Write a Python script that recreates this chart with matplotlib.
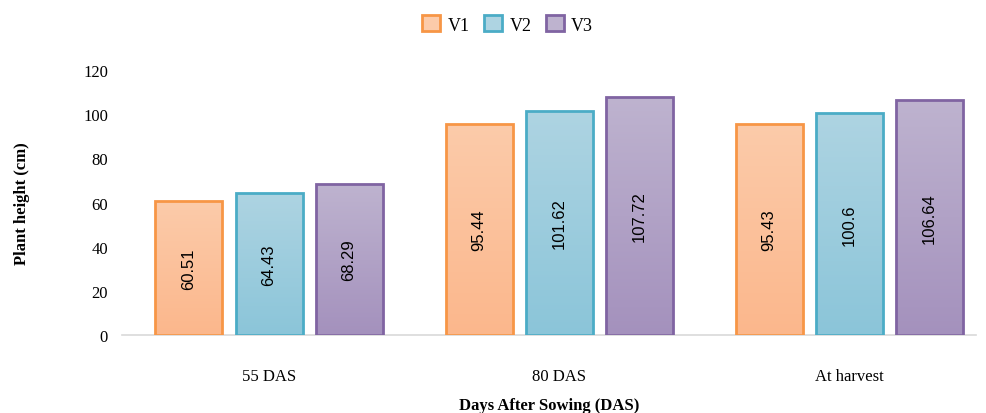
import numpy as np
import matplotlib.pyplot as plt
from matplotlib.colors import LinearSegmentedColormap
from matplotlib.patches import Patch

stages = ['55 DAS', '80 DAS', 'At harvest']
v1 = [60.51, 95.44, 95.43]
v2 = [64.43, 101.62, 100.6]
v3 = [68.29, 107.72, 106.64]
series = ['V1', 'V2', 'V3']

# edge colour, top fill, bottom fill
styles = [('#F79646', '#FCCBAA', '#FBB78C'),
          ('#4BACC6', '#AED4E2', '#8BC5D9'),
          ('#8064A2', '#BEB3CF', '#A491BD')]

plt.rcParams['font.family'] = ['Liberation Serif', 'DejaVu Serif']

fig = plt.figure(figsize=(9.86, 4.14), dpi=100)
ax = fig.add_axes([0.1237, 0.1884, 0.8663, 0.6401])

x = np.arange(len(stages))
width = 0.231
step = 0.276
grad = np.linspace(0, 1, 256).reshape(-1, 1)

for i, (vals, name) in enumerate(zip([v1, v2, v3], series)):
    edge, top, bottom = styles[i]
    cmap = LinearSegmentedColormap.from_list(name, [bottom, top])
    bars = ax.bar(x + (i - 1) * step, vals, width, facecolor='none',
                  edgecolor=edge, linewidth=2, label=name, zorder=3)
    for b, v in zip(bars, vals):
        x0 = b.get_x()
        im = ax.imshow(grad, cmap=cmap, aspect='auto', origin='lower',
                       extent=[x0, x0 + width, 0, v], zorder=2)
        im.set_clip_path(b)
        ax.text(x0 + width / 2, v / 2, f'{v:g}', rotation=90,
                ha='center', va='center', fontsize=12,
                family=['Liberation Sans', 'DejaVu Sans'], zorder=4)

ax.set_xlim(-0.507, 2.438)
ax.set_ylim(0, 120)
ax.set_yticks(range(0, 121, 20))
ax.set_xticks(x)
ax.set_xticklabels(stages)
ax.tick_params(length=0, labelsize=12, pad=10)
ax.tick_params(axis='x', pad=24)
for s in ['top', 'right', 'left']:
    ax.spines[s].set_visible(False)
ax.spines['bottom'].set_color('#D9D9D9')
ax.spines['bottom'].set_linewidth(1.2)

ax.set_ylabel('Plant height (cm)', fontweight='bold', fontsize=12, labelpad=38)
ax.set_xlabel('Days After Sowing (DAS)', fontweight='bold', fontsize=12, labelpad=9)

handles = [Patch(facecolor=s[1], edgecolor=s[0], linewidth=2) for s in styles]
fig.legend(handles, series, loc='upper center', bbox_to_anchor=(0.515, 1.0),
           ncol=3, frameon=False, fontsize=13, handlelength=1.0,
           handleheight=1.0, columnspacing=0.8, handletextpad=0.4)

fig.savefig('out.png', dpi=100)
